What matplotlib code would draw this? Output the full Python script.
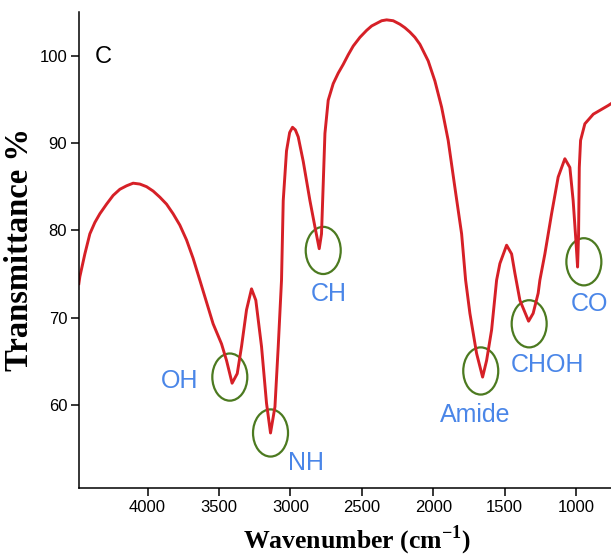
import matplotlib
matplotlib.use("Agg")
import matplotlib.pyplot as plt
from matplotlib.patches import Ellipse

# spectrum (wavenumber cm-1, transmittance %)
wavenumber = [4481, 4474, 4439, 4404, 4369, 4334, 4287, 4241, 4194, 4147, 4101,
              4054, 4007, 3961, 3914, 3867, 3821, 3774, 3727, 3681, 3634,
              3541, 3482, 3447, 3408, 3372, 3342, 3307, 3272, 3242, 3202,
              3167, 3139, 3108, 3085, 3062, 3050, 3027, 3005, 2985, 2965, 2945,
              2910, 2863, 2828, 2798, 2782, 2770, 2758, 2735, 2700, 2665, 2630,
              2595, 2560, 2513, 2466, 2431, 2396, 2361, 2326, 2280, 2233, 2198,
              2163, 2128, 2093, 2035, 1988, 1941, 1895, 1848, 1801, 1773,
              1743, 1696, 1654, 1626, 1591, 1556, 1533, 1486, 1451, 1428, 1393,
              1332, 1300, 1265, 1253, 1218, 1171, 1125, 1078, 1043, 1020, 1001,
              989, 982, 977, 968, 938, 879, 774, 755]
transmittance = [73.9, 74.7, 77.3, 79.6, 80.9, 81.9, 83.0, 84.0, 84.7, 85.1, 85.4,
                 85.3, 85.0, 84.5, 83.8, 83.0, 81.9, 80.6, 78.9, 76.8, 74.3,
                 69.3, 67.0, 65.1, 62.5, 63.6, 66.7, 70.9, 73.3, 72.0, 66.7,
                 60.2, 56.8, 59.8, 66.7, 74.3, 83.4, 89.1, 91.2, 91.8, 91.5, 90.7,
                 87.9, 83.4, 80.4, 77.9, 79.6, 85.3, 91.1, 94.9, 96.8, 98.0, 99.0,
                 100.1, 101.1, 102.1, 102.9, 103.4, 103.7, 104.0, 104.1, 104.0, 103.6, 103.2,
                 102.7, 102.1, 101.3, 99.4, 97.1, 94.1, 90.3, 84.9, 79.6, 74.3,
                 70.5, 65.9, 63.2, 65.1, 68.6, 74.3, 76.2, 78.3, 77.3, 75.1, 72.0,
                 69.6, 70.5, 72.8, 74.3, 77.3, 81.9, 86.1, 88.2, 87.2, 83.4, 78.9,
                 75.8, 79.6, 87.2, 90.3, 92.2, 93.3, 94.3, 94.5]

# band annotations
band_names = ["OH", "NH", "CH", "Amide", "CHOH", "CO"]
circle_x = [3424, 3139, 2770, 1667, 1328, 945]
circle_y = [63.2, 56.8, 77.7, 63.9, 69.3, 76.4]
label_x = [3774, 2891, 2730, 1708, 1200, 903]
label_y = [62.7, 53.4, 72.7, 58.9, 64.6, 71.6]

x_ticks = [4000, 3500, 3000, 2500, 2000, 1500, 1000]
y_ticks = [60, 70, 80, 90, 100]

plt.rcParams["font.family"] = ["Liberation Sans", "DejaVu Sans"]

fig = plt.figure(figsize=(6.11, 5.56), dpi=100)
ax = fig.add_axes([79 / 611, 68 / 556, 532 / 611, 476 / 556])

ax.plot(wavenumber, transmittance, color="#d62027", linewidth=2.1,
        solid_joinstyle="round")

for i in range(len(band_names)):
    ax.add_patch(Ellipse((circle_x[i], circle_y[i]), 245, 5.4, fill=False,
                         edgecolor="#4c7a20", linewidth=1.6))
    ax.text(label_x[i], label_y[i], band_names[i], color="#4a86e8",
            fontsize=18, ha="center", va="center", clip_on=False)

ax.text(4311, 99.8, "C", fontsize=17, ha="center", va="center")

ax.set_xlim(4480, 755)
ax.set_ylim(50.5, 105)
ax.set_xticks(x_ticks)
ax.set_yticks(y_ticks)
ax.tick_params(direction="out", length=5.5, width=1.1, labelsize=12, pad=3)

for side in ["top", "right"]:
    ax.spines[side].set_visible(False)
for side in ["left", "bottom"]:
    ax.spines[side].set_linewidth(1.1)

ax.set_xlabel("Wavenumber (cm$^{\\mathregular{-1}}$)", family="Liberation Serif",
              fontweight="bold", fontsize=18.5)
ax.xaxis.set_label_coords(0.5226, -0.074)
ax.set_ylabel("Transmittance %", family="Liberation Serif",
              fontweight="bold", fontsize=23.5)
ax.yaxis.set_label_coords(-0.082, 0.502)

fig.savefig("out.png", dpi=100)
